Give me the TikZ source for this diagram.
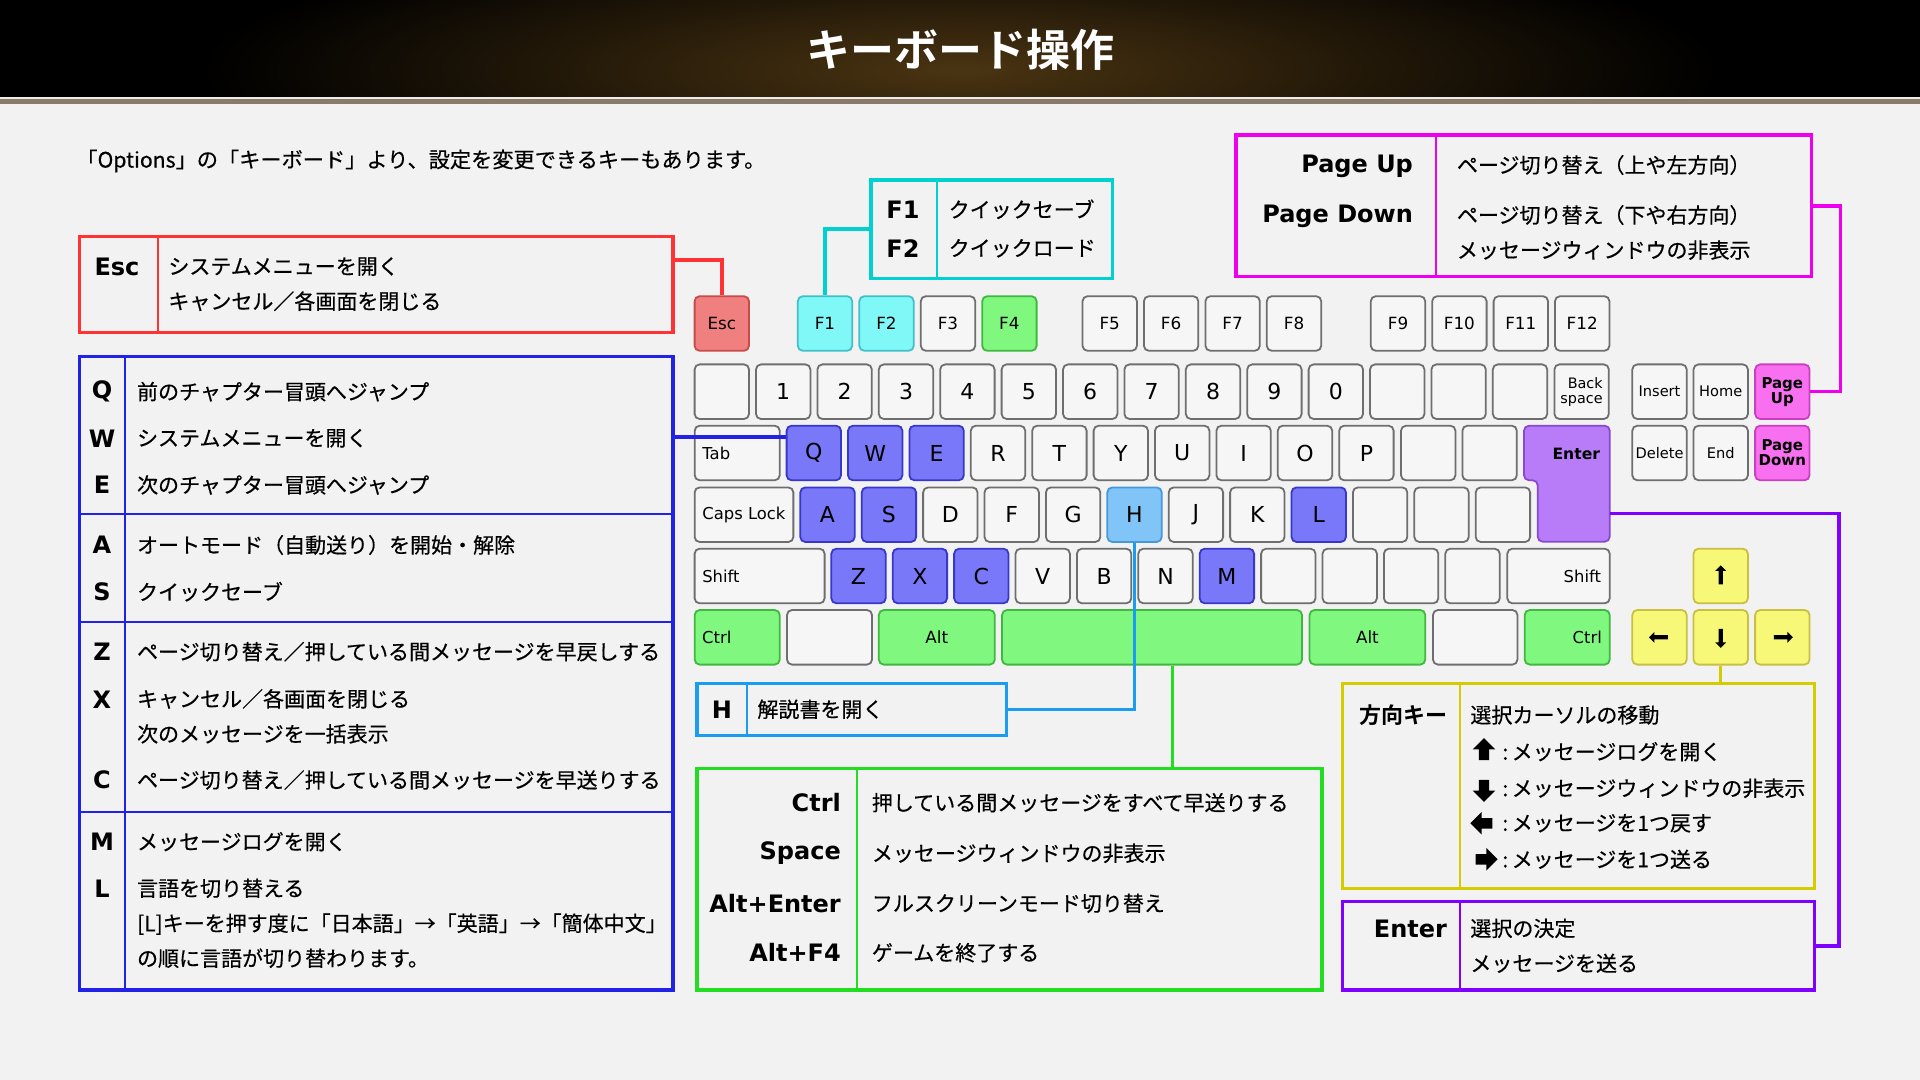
\documentclass[tikz,border=0pt]{standalone}
\usepackage{fontspec}
\setmainfont{Noto Sans CJK JP}[BoldFont={Noto Sans CJK JP Bold}]
\newfontfamily\descfont{Noto Sans CJK JP}[FakeBold=0.45]
\newfontfamily\keyfont{DejaVu Sans}
\usetikzlibrary{shapes.arrows}

\definecolor{bgpaper}{HTML}{F2F2F2}
\definecolor{hdrbrown}{HTML}{4A3412}
\definecolor{hdrline}{HTML}{8A7A6A}
\definecolor{keyfill}{HTML}{F6F6F6}
\definecolor{keyline}{HTML}{6E6E6E}
\definecolor{escred}{HTML}{FF3333}
\definecolor{escfill}{HTML}{F08080}
\definecolor{escedge}{HTML}{C84A4A}
\definecolor{qblue}{HTML}{2222E6}
\definecolor{qfill}{HTML}{7878F8}
\definecolor{qedge}{HTML}{3838C8}
\definecolor{fcyan}{HTML}{00D0D0}
\definecolor{ffill}{HTML}{80F8F8}
\definecolor{fedge}{HTML}{40C0C8}
\definecolor{pagemag}{HTML}{EE00EE}
\definecolor{pagefill}{HTML}{F870F0}
\definecolor{pageedge}{HTML}{C840C0}
\definecolor{entviolet}{HTML}{8000FF}
\definecolor{entfill}{HTML}{B87CF8}
\definecolor{entedge}{HTML}{8848D0}
\definecolor{arryel}{HTML}{D4CC00}
\definecolor{arrfill}{HTML}{F8F878}
\definecolor{arredge}{HTML}{C8C040}
\definecolor{ctrlgreen}{HTML}{22DD22}
\definecolor{ctrlfill}{HTML}{80F880}
\definecolor{ctrledge}{HTML}{40B840}
\definecolor{hblue}{HTML}{1A9CF0}
\definecolor{hfill}{HTML}{80C4F8}
\definecolor{hedge}{HTML}{4898D8}

\begin{document}
\begin{tikzpicture}[x=0.5pt, y=-0.5pt,
    kbkey/.style={draw=keyline, fill=keyfill, rounded corners=2.5pt, line width=0.9pt, minimum width=27.2pt, minimum height=27.3pt, inner sep=0pt, text=black, font=\keyfont\fontsize{8.4pt}{9pt}\selectfont},
    kbplain/.style={},
    kbbig/.style={font=\keyfont\fontsize{11pt}{12pt}\selectfont},
    kbtiny/.style={font=\keyfont\fontsize{7.3pt}{8pt}\selectfont},
    kbesc/.style={fill=escfill, draw=escedge},
    kbf/.style={fill=ffill, draw=fedge},
    kbq/.style={fill=qfill, draw=qedge},
    kbh/.style={fill=hfill, draw=hedge},
    kbctrl/.style={fill=ctrlfill, draw=ctrledge},
    kbarr/.style={fill=arrfill, draw=arredge},
    kbpage/.style={fill=pagefill, draw=pageedge, align=center, font=\keyfont\bfseries\fontsize{7.5pt}{7.4pt}\selectfont},
    kblbl/.style={inner sep=0pt, text=black, font=\keyfont\fontsize{8.2pt}{9pt}\selectfont},
    kbtip/.style={single arrow, fill=black, inner sep=0.85pt, single arrow head extend=1.7pt, single arrow head indent=0pt, minimum height=9.5pt},
    bigtip/.style={single arrow, fill=black, inner sep=2.4pt, single arrow head extend=3pt, single arrow head indent=0pt, minimum height=11pt},
    kbframe/.style={draw=#1, line width=1.7pt, inner sep=0pt},
    kbdiv/.style={draw=#1, line width=1pt},
    kbline/.style={draw=#1, line width=1.7pt},
    kbname/.style={inner sep=0pt, font=\keyfont\bfseries\fontsize{12pt}{14pt}\selectfont},
    kbdesc/.style={anchor=west, inner sep=0pt, align=left, font=\descfont\fontsize{10.5pt}{17.5pt}\selectfont}
]
\useasboundingbox (0,0) rectangle (1920,1080);

% paper and header
\fill[bgpaper] (0,0) rectangle (1920,1080);
\fill[black] (0,0) rectangle (1920,97);
\begin{scope}
  \clip (0,0) rectangle (1920,97);
  \shade[inner color=hdrbrown, outer color=black] (960,70) ellipse (380pt and 70pt);
\end{scope}
\fill[white!85!gray] (0,97) rectangle (1920,99);
\fill[hdrline] (0,99) rectangle (1920,104);
\node[text=white, font=\bfseries\fontsize{22pt}{24pt}\selectfont] (title) at (960,50) {キーボード操作};
\node[kbdesc, font=\descfont\fontsize{10.6pt}{12pt}\selectfont] (intro) at (76,161) {「Options」の「キーボード」より、設定を変更できるキーもあります。};

% function row
\node[kbkey,kbesc] (kesc) at (721.8,323.5) {Esc};
\node[kbkey,kbf] (kF1) at (825,323.5) {F1};
\node[kbkey,kbf] (kF2) at (886.5,323.5) {F2};
\node[kbkey] (kF3) at (948,323.5) {F3};
\node[kbkey,kbctrl] (kF4) at (1009.4,323.5) {F4};
\foreach \n/\x in {F5/1109.7,F6/1171.1,F7/1232.6,F8/1294,F9/1398,F10/1459.4,F11/1520.8,F12/1582.2}
  \node[kbkey] (k\n) at (\x,323.5) {\n};

% number row
\foreach \t [count=\i from 0] in {{},1,2,3,4,5,6,7,8,9,0,{},{},{}}
  \node[kbkey,kbbig] (kn\i) at ({721.8+61.4*\i},391.7) {\t};
\node[kbkey] (kbs) at (1581.6,391.7) {};
\node[kblbl, anchor=east, align=right, font=\keyfont\fontsize{7.2pt}{7.5pt}\selectfont] (kbstxt) at ([xshift=-3.3pt]kbs.east) {Back\\space};
\node[kbkey,kbtiny] (kins) at (1659.5,391.7) {Insert};
\node[kbkey,kbtiny] (khome) at (1720.7,391.7) {Home};
\node[kbkey,kbpage] (kpgup) at (1782.3,391.7) {Page\\Up};

% tab row
\node[kbkey, minimum width=42.5pt] (ktab) at (737.2,453) {};
\node[kblbl, anchor=west] (ktabtxt) at ([xshift=4.1pt]ktab.west) {Tab};
\foreach \t/\s [count=\i from 0] in {Q/kbq,W/kbq,E/kbq,R/kbplain,T/kbplain,Y/kbplain,U/kbplain,I/kbplain,O/kbplain,P/kbplain}
  \node[kbkey,kbbig,\s] (k\t) at ({813.8+61.4*\i},453) {\t};
\node[kbkey] (kt10) at (1428.2,453) {};
\node[kbkey] (kt11) at (1489.6,453) {};
\draw[fill=entfill, draw=entedge, line width=0.9pt, rounded corners=2.5pt] (1524,425.7) -- (1609.7,425.7) -- (1609.7,541.7) -- (1537.7,541.7) -- (1537.7,480.3) -- (1524,480.3) -- cycle;
\node[kblbl, anchor=east, font=\keyfont\bfseries\fontsize{7.8pt}{9pt}\selectfont] (kentxt) at (1600.4,454) {Enter};
\coordinate (kenter) at (1609.7,513.3);
\node[kbkey,kbtiny] (kdel) at (1659.5,453) {Delete};
\node[kbkey,kbtiny] (kend) at (1720.7,453) {End};
\node[kbkey,kbpage] (kpgdn) at (1782.3,453) {Page\\Down};

% caps row
\node[kbkey, minimum width=49.35pt] (kcaps) at (744,514.7) {};
\node[kblbl, anchor=west] (kcapstxt) at ([xshift=4.1pt]kcaps.west) {Caps Lock};
\foreach \t/\s [count=\i from 0] in {A/kbq,S/kbq,D/kbplain,F/kbplain,G/kbplain,H/kbh,J/kbplain,K/kbplain,L/kbq}
  \node[kbkey,kbbig,\s] (k\t) at ({827.5+61.4*\i},514.7) {\t};
\foreach \i in {9,10,11}
  \node[kbkey] (kc\i) at ({827.5+61.4*\i},514.7) {};

% shift row
\node[kbkey, minimum width=65pt] (klshift) at (759.6,576) {};
\node[kblbl, anchor=west] (klshtxt) at ([xshift=4.1pt]klshift.west) {Shift};
\foreach \t/\s [count=\i from 0] in {Z/kbq,X/kbq,C/kbq,V/kbplain,B/kbplain,N/kbplain,M/kbq}
  \node[kbkey,kbbig,\s] (k\t) at ({858.5+61.4*\i},576) {\t};
\foreach \i in {7,8,9,10}
  \node[kbkey] (ks\i) at ({858.5+61.4*\i},576) {};
\node[kbkey, minimum width=51.2pt] (krshift) at (1558.5,576) {};
\node[kblbl, anchor=east] (krshtxt) at ([xshift=-4.6pt]krshift.east) {Shift};

% bottom row
\node[kbkey,kbctrl, minimum width=42.5pt] (klctrl) at (737.2,637.3) {};
\node[kblbl, anchor=west] (klctxt) at ([xshift=4pt]klctrl.west) {Ctrl};
\node[kbkey, minimum width=42.5pt] (kwin) at (829.5,637.3) {};
\node[kbkey,kbctrl, minimum width=58pt] (klalt) at (936.8,637.3) {Alt};
\node[kbkey,kbctrl, minimum width=150pt] (kspace) at (1152,637.3) {};
\node[kbkey,kbctrl, minimum width=57.85pt] (kralt) at (1367.4,637.3) {Alt};
\node[kbkey, minimum width=42.25pt] (kmenu) at (1475.2,637.3) {};
\node[kbkey,kbctrl, minimum width=42.5pt] (krctrl) at (1567.2,637.3) {};
\node[kblbl, anchor=east] (krctxt) at ([xshift=-4.2pt]krctrl.east) {Ctrl};

% arrow keys
\node[kbkey,kbarr] (kup) at (1720.7,576) {};
\node[kbkey,kbarr] (kleft) at (1659.5,637.3) {};
\node[kbkey,kbarr] (kdown) at (1720.7,637.3) {};
\node[kbkey,kbarr] (kright) at (1782.3,637.3) {};
\node[kbtip, shape border rotate=90] (kuptip) at (kup) {};
\node[kbtip, shape border rotate=180] (klefttip) at (kleft) {};
\node[kbtip, shape border rotate=270] (kdowntip) at (kdown) {};
\node[kbtip] (krighttip) at (kright) {};

% Esc box
\node[kbframe=escred, minimum width=296.7pt, minimum height=47.8pt] (escbox) at (376.3,284.5) {};
\draw[kbdiv=escred] (158,236.7) -- (158,332.3);
\node[kbname] (escname) at (117,266.7) {Esc};
\node[kbdesc] (escdesc) at (168,284.2) {システムメニューを開く\\キャンセル／各画面を閉じる};

% letter keys box
\node[kbframe=qblue, minimum width=296.7pt, minimum height=316.65pt] (qbox) at (376.3,673.35) {};
\draw[kbdiv=qblue] (125.3,356.7) -- (125.3,990);
\foreach \y in {514,621.7,811.7}
  \draw[kbdiv=qblue] (79.6,\y) -- (673,\y);
\foreach \t/\y in {Q/391.7,W/438.3,E/485,A/545,S/591.7,Z/651.7,X/699.3,C/780,M/841.7,L/888.3}
  \node[kbname] (q\t) at (102,\y) {\t};
\node[kbdesc] (qQd) at (136.7,391.7) {前のチャプター冒頭へジャンプ};
\node[kbdesc] (qWd) at (136.7,438.3) {システムメニューを開く};
\node[kbdesc] (qEd) at (136.7,485) {次のチャプター冒頭へジャンプ};
\node[kbdesc] (qAd) at (136.7,545) {オートモード（自動送り）を開始・解除};
\node[kbdesc] (qSd) at (136.7,591.7) {クイックセーブ};
\node[kbdesc] (qZd) at (136.7,651.7) {ページ切り替え／押している間メッセージを早戻しする};
\node[kbdesc] (qXd) at (136.7,716.3) {キャンセル／各画面を閉じる\\次のメッセージを一括表示};
\node[kbdesc] (qCd) at (136.7,780) {ページ切り替え／押している間メッセージを早送りする};
\node[kbdesc] (qMd) at (136.7,841.7) {メッセージログを開く};
\node[kbdesc] (qLd) at (136.7,923.3) {言語を切り替える\\{[L]}キーを押す度に「日本語」→「英語」→「簡体中文」\\の順に言語が切り替わります。};

% F1 F2 box
\node[kbframe=fcyan, minimum width=120.65pt, minimum height=49.15pt] (fbox) at (991.65,229.15) {};
\draw[kbdiv=fcyan] (937.3,180) -- (937.3,278.3);
\node[kbname] (fF1) at (903,209.3) {F1};
\node[kbname] (fF2) at (903,248.3) {F2};
\node[kbdesc] (fF1d) at (948.3,209.3) {クイックセーブ};
\node[kbdesc] (fF2d) at (948.3,248.3) {クイックロード};

% page box
\node[kbframe=pagemag, minimum width=287.75pt, minimum height=70.85pt] (pgbox) at (1523.75,205.85) {};
\draw[kbdiv=pagemag] (1435.7,135) -- (1435.7,276.7);
\node[kbname, anchor=east] (pgup) at (1413.3,166.7) {Page Up};
\node[kbname, anchor=east] (pgdn) at (1413.3,216.7) {Page Down};
\node[kbdesc] (pgupd) at (1456.5,165) {ページ切り替え（上や左方向）};
\node[kbdesc] (pgdnd) at (1456.5,232.5) {ページ切り替え（下や右方向）\\メッセージウィンドウの非表示};

% H box
\node[kbframe=hblue, minimum width=154.7pt, minimum height=26.2pt] (hbox) at (851.5,709.5) {};
\draw[kbdiv=hblue] (746.5,683.3) -- (746.5,735.7);
\node[kbname] (hH) at (722,709.3) {H};
\node[kbdesc] (hHd) at (757,709.3) {解説書を開く};

% Ctrl / Space box
\node[kbframe=ctrlgreen, minimum width=312.55pt, minimum height=110.85pt] (ctrlbox) at (1009.35,879.15) {};
\draw[kbdiv=ctrlgreen] (856.8,768.3) -- (856.8,990);
\node[kbname, anchor=east] (cctrl) at (841.2,802.7) {Ctrl};
\node[kbname, anchor=east] (cspace) at (841.2,853.3) {Space};
\node[kbname, anchor=east] (caltent) at (841.2,903.3) {Alt+Enter};
\node[kbname, anchor=east] (caltf) at (841.2,952.7) {Alt+F4};
\node[kbdesc] (cctrld) at (871.5,802.7) {押している間メッセージをすべて早送りする};
\node[kbdesc] (cspaced) at (871.5,853.3) {メッセージウィンドウの非表示};
\node[kbdesc] (caltentd) at (871.5,903.3) {フルスクリーンモード切り替え};
\node[kbdesc] (caltfd) at (871.5,952.7) {ゲームを終了する};

% arrow box
\node[kbframe=arryel, minimum width=236.1pt, minimum height=102.5pt] (arrbox) at (1578.3,785.8) {};
\draw[kbdiv=arryel] (1460,683.3) -- (1460,888.3);
\node[inner sep=0pt, anchor=east, font=\bfseries\fontsize{11pt}{12pt}\selectfont] (aname) at (1447.4,715) {方向キー};
\node[kbdesc] (ahead) at (1470,715) {選択カーソルの移動};
\node[bigtip, shape border rotate=90] (aup) at (1484,751.7) {};
\node[bigtip, shape border rotate=270] (adown) at (1484,788.3) {};
\node[bigtip, shape border rotate=180] (aleft) at (1484,823.3) {};
\node[bigtip] (aright) at (1484,859.3) {};
\node[kbdesc] (aupd) at (1502,751.7) {:\,メッセージログを開く};
\node[kbdesc] (adownd) at (1502,788.3) {:\,メッセージウィンドウの非表示};
\node[kbdesc] (aleftd) at (1502,823.3) {:\,メッセージを1つ戻す};
\node[kbdesc] (arightd) at (1502,859.3) {:\,メッセージを1つ送る};

% Enter box
\node[kbframe=entviolet, minimum width=236.1pt, minimum height=44.15pt] (entbox) at (1578.3,945.85) {};
\draw[kbdiv=entviolet] (1460,901.7) -- (1460,990);
\node[kbname, anchor=east] (eenter) at (1447.4,929.3) {Enter};
\node[kbdesc] (eenterd) at (1470,945.8) {選択の決定\\メッセージを送る};

% connectors
\draw[kbline=escred] ([yshift=12.25pt]escbox.east) -| (kesc.north);
\coordinate (qtip) at ([yshift=8pt]kQ.west);
\draw[kbline=qblue] (qtip -| qbox.east) -- (qtip);
\draw[kbline=fcyan] (fbox.west) -| (kF1.north);
\draw[kbline=pagemag] (pgbox.east) -- ++(27.5,0) |- (kpgup.east);
\draw[kbline=entviolet] (kenter) -- ++(229.3,0) |- (entbox.east);
\draw[kbline=arryel] (kdown.south) -- (kdown.south |- arrbox.north);
\coordinate (sptip) at ([xshift=10.25pt]kspace.south);
\draw[kbline=ctrlgreen] (sptip) -- (sptip |- ctrlbox.north);
\draw[kbline=hblue] (hbox.east) -| (kH.south);

\end{tikzpicture}
\end{document}
